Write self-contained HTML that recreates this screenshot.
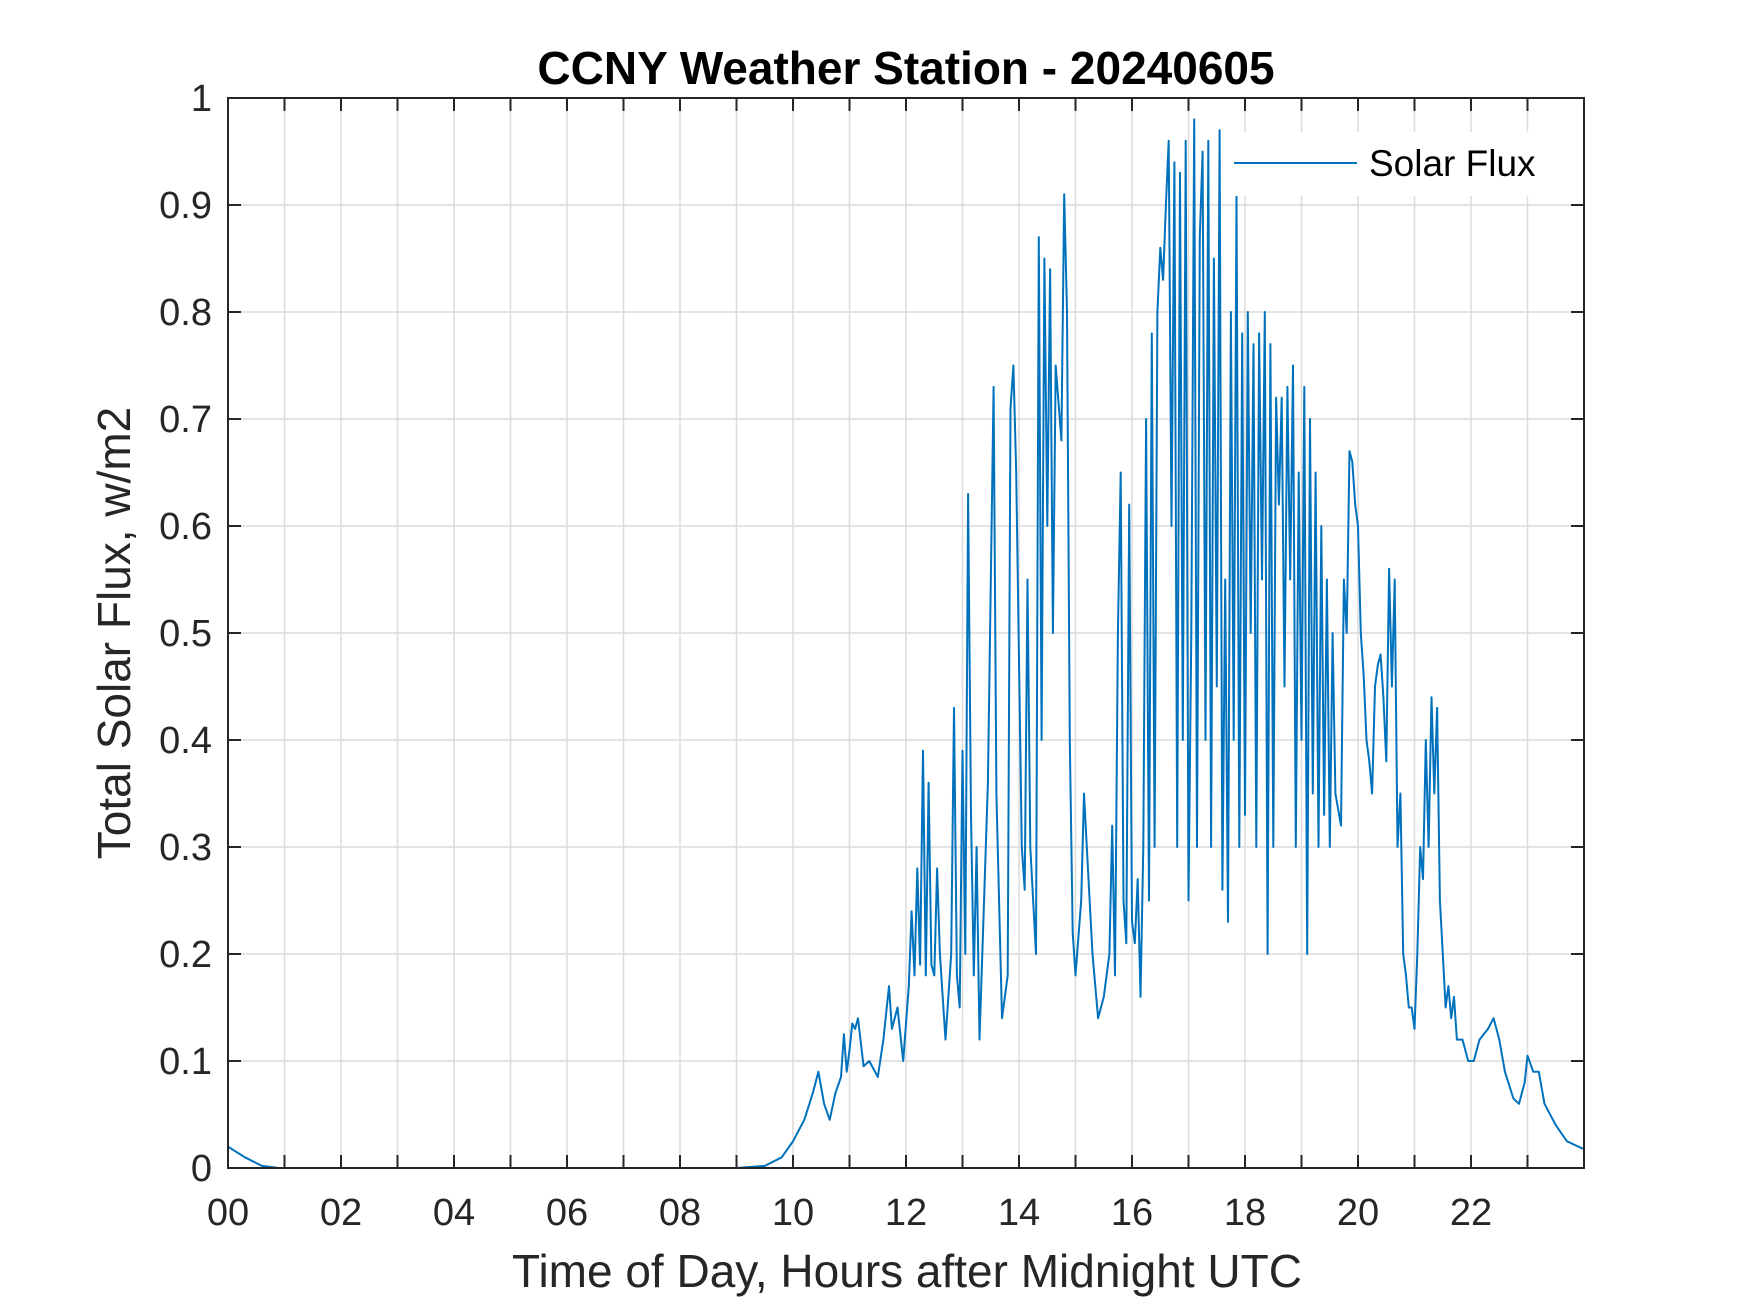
<!DOCTYPE html>
<html><head><meta charset="utf-8"><style>
html,body{margin:0;padding:0;background:#fff;}
svg{display:block;font-family:"Liberation Sans",Arial,sans-serif;}
</style></head><body>
<svg id="chart" width="1750" height="1313" viewBox="0 0 1750 1313" xmlns="http://www.w3.org/2000/svg">
<rect width="1750" height="1313" fill="#fff"/>
<text x="906" y="84" text-anchor="middle" font-size="46" font-weight="bold" fill="#000">CCNY Weather Station - 20240605</text>
<g id="grid"></g>
<g id="ticks"></g>
<g id="series"></g>
<rect x="228" y="98" width="1356" height="1070" fill="none" stroke="#262626" stroke-width="2"/>
<g>
<rect x="1225" y="132" width="350" height="64" fill="#fff"/>
<line x1="1234" y1="163" x2="1357" y2="163" stroke="#0072BD" stroke-width="2"/>
<text x="1369" y="176" font-size="37" fill="#000">Solar Flux</text>
</g>
<text x="907" y="1287" text-anchor="middle" font-size="46" fill="#262626">Time of Day, Hours after Midnight UTC</text>
<text transform="translate(130,633) rotate(-90)" text-anchor="middle" font-size="46" fill="#262626">Total Solar Flux, w/m2</text>
</svg>
<script>
const xTickLabels = ["00","02","04","06","08","10","12","14","16","18","20","22"];
const xTickValues = [0,2,4,6,8,10,12,14,16,18,20,22];
const yTickLabels = ["0","0.1","0.2","0.3","0.4","0.5","0.6","0.7","0.8","0.9","1"];
const yTickValues = [0,0.1,0.2,0.3,0.4,0.5,0.6,0.7,0.8,0.9,1];
const times = [0,0.3,0.6,0.9,9.0,9.5,9.8,10.0,10.2,10.35,10.45,10.55,10.65,10.75,10.85,10.9,10.95,11.0,11.05,11.1,11.15,11.25,11.35,11.5,11.6,11.7,11.75,11.85,11.95,12.05,12.1,12.15,12.2,12.25,12.3,12.35,12.4,12.45,12.5,12.55,12.6,12.7,12.8,12.85,12.9,12.95,13.0,13.05,13.1,13.15,13.2,13.25,13.3,13.35,13.45,13.55,13.6,13.7,13.8,13.85,13.9,13.95,14.05,14.1,14.15,14.2,14.3,14.35,14.4,14.45,14.5,14.55,14.6,14.65,14.75,14.8,14.85,14.9,14.95,15.0,15.1,15.15,15.2,15.3,15.4,15.5,15.6,15.65,15.7,15.75,15.8,15.85,15.9,15.95,16.0,16.05,16.1,16.15,16.2,16.25,16.3,16.35,16.4,16.45,16.5,16.55,16.6,16.65,16.7,16.75,16.8,16.85,16.9,16.95,17.0,17.05,17.1,17.15,17.2,17.25,17.3,17.35,17.4,17.45,17.5,17.55,17.6,17.65,17.7,17.75,17.8,17.85,17.9,17.95,18.0,18.05,18.1,18.15,18.2,18.25,18.3,18.35,18.4,18.45,18.5,18.55,18.6,18.65,18.7,18.75,18.8,18.85,18.9,18.95,19.0,19.05,19.1,19.15,19.2,19.25,19.3,19.35,19.4,19.45,19.5,19.55,19.6,19.7,19.75,19.8,19.85,19.9,19.95,20.0,20.05,20.1,20.15,20.2,20.25,20.3,20.35,20.4,20.45,20.5,20.55,20.6,20.65,20.7,20.75,20.8,20.85,20.9,20.95,21.0,21.05,21.1,21.15,21.2,21.25,21.3,21.35,21.4,21.45,21.5,21.55,21.6,21.65,21.7,21.75,21.85,21.95,22.05,22.15,22.3,22.4,22.5,22.6,22.75,22.85,22.95,23.0,23.1,23.2,23.3,23.5,23.7,23.98];
const flux = [0.02,0.01,0.002,0,0,0.002,0.01,0.025,0.045,0.07,0.09,0.06,0.045,0.07,0.085,0.125,0.09,0.11,0.135,0.13,0.14,0.095,0.1,0.085,0.12,0.17,0.13,0.15,0.1,0.17,0.24,0.18,0.28,0.19,0.39,0.18,0.36,0.19,0.18,0.28,0.2,0.12,0.2,0.43,0.18,0.15,0.39,0.2,0.63,0.33,0.18,0.3,0.12,0.2,0.36,0.73,0.35,0.14,0.18,0.71,0.75,0.65,0.3,0.26,0.55,0.3,0.2,0.87,0.4,0.85,0.6,0.84,0.5,0.75,0.68,0.91,0.8,0.4,0.22,0.18,0.25,0.35,0.3,0.2,0.14,0.16,0.2,0.32,0.18,0.5,0.65,0.25,0.21,0.62,0.23,0.21,0.27,0.16,0.3,0.7,0.25,0.78,0.3,0.8,0.86,0.83,0.9,0.96,0.6,0.94,0.3,0.93,0.4,0.96,0.25,0.5,0.98,0.3,0.87,0.95,0.4,0.96,0.3,0.85,0.45,0.97,0.26,0.55,0.23,0.8,0.4,0.91,0.3,0.78,0.33,0.8,0.5,0.77,0.3,0.78,0.55,0.8,0.2,0.77,0.3,0.72,0.62,0.72,0.45,0.73,0.55,0.75,0.3,0.65,0.4,0.73,0.2,0.7,0.35,0.65,0.3,0.6,0.33,0.55,0.3,0.5,0.35,0.32,0.55,0.5,0.67,0.66,0.62,0.6,0.5,0.46,0.4,0.38,0.35,0.45,0.47,0.48,0.44,0.38,0.56,0.45,0.55,0.3,0.35,0.2,0.18,0.15,0.15,0.13,0.2,0.3,0.27,0.4,0.3,0.44,0.35,0.43,0.25,0.2,0.15,0.17,0.14,0.16,0.12,0.12,0.1,0.1,0.12,0.13,0.14,0.12,0.09,0.065,0.06,0.08,0.105,0.09,0.09,0.06,0.04,0.025,0.018];

const X0 = 228, X1 = 1584, Y0 = 1168, Y1 = 98;
function xs(h){ return X0 + (h/24)*(X1-X0); }
function ys(v){ return Y0 - v*(Y0-Y1); }
const NS = "http://www.w3.org/2000/svg";
const grid = document.getElementById('grid');
const ticks = document.getElementById('ticks');
function mk(tag, attrs, parent){
  const e = document.createElementNS(NS, tag);
  for (const k in attrs) e.setAttribute(k, attrs[k]);
  parent.appendChild(e);
  return e;
}
for (let h = 1; h < 24; h++) {
  const x = xs(h);
  const g = mk('line', {x1:x, y1:Y1, x2:x, y2:Y0, stroke:'#dcdcdc', 'stroke-width':1.5}, grid);
  
  
  const t1 = mk('line', {x1:x, y1:Y0, x2:x, y2:Y0-13, stroke:'#262626', 'stroke-width':2}, ticks);
  
  
  const t2 = mk('line', {x1:x, y1:Y1, x2:x, y2:Y1+13, stroke:'#262626', 'stroke-width':2}, ticks);
  
  
}
xTickValues.forEach((v, i) => {
  const t = mk('text', {x: xs(v), y: 1225, 'text-anchor':'middle', 'font-size':38, fill:'#262626'}, ticks);
  t.textContent = xTickLabels[i];
  
  
});
yTickValues.forEach((v, i) => {
  const y = ys(v);
  if (v > 0 && v < 1) {
    const g = mk('line', {x1:X0, y1:y, x2:X1, y2:y, stroke:'#dcdcdc', 'stroke-width':1.5}, grid);
    
    
    const t1 = mk('line', {x1:X0, y1:y, x2:X0+13, y2:y, stroke:'#262626', 'stroke-width':2}, ticks);
    
    
    const t2 = mk('line', {x1:X1, y1:y, x2:X1-13, y2:y, stroke:'#262626', 'stroke-width':2}, ticks);
    
    
  }
  const t = mk('text', {x: 212, y: y+13, 'text-anchor':'end', 'font-size':38, fill:'#262626'}, ticks);
  t.textContent = yTickLabels[i];
  
  
});
const pts = times.map((t, i) => xs(t).toFixed(1) + ',' + ys(flux[i]).toFixed(1)).join(' ');
const line = mk('polyline', {points: pts, fill:'none', stroke:'#0072BD', 'stroke-width':2, 'stroke-linejoin':'round'}, document.getElementById('series'));


</script>
</body></html>
